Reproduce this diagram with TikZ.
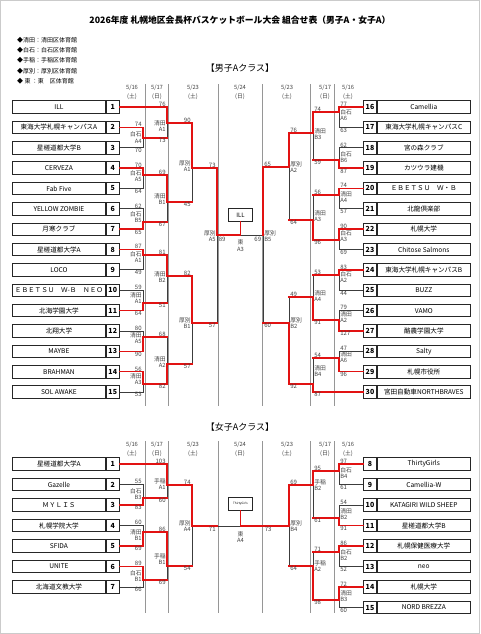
\documentclass[tikz,border=0pt]{standalone}
\usepackage{fontspec}
\setmainfont{Noto Sans CJK JP}
\usetikzlibrary{positioning}

\definecolor{winred}{RGB}{226,18,18}
\definecolor{linegray}{RGB}{60,60,60}
\definecolor{colgray}{RGB}{150,150,150}

\begin{document}
\begin{tikzpicture}[
  x=1pt, y=-1pt,
  font=\fontsize{6.6}{7.5}\selectfont,
  tname/.style={draw=black!85, line width=0.8pt, minimum width=92.5pt, minimum height=12.5pt, inner sep=0pt},
  tnum/.style={draw=black!85, line width=0.8pt, minimum width=13.5pt, minimum height=12.5pt, inner sep=0pt, font=\fontsize{7}{8}\selectfont\bfseries},
  winbox/.style={draw=black!85, line width=0.8pt, minimum width=24pt, minimum height=13pt, inner sep=0pt},
  day/.style={align=center, font=\fontsize{5.8}{9}\selectfont, text=black!75},
  score/.style={font=\fontsize{6}{6.5}\selectfont, text=black!75, inner xsep=1.2pt, inner ysep=0.4pt},
  venue/.style={score, font=\fontsize{5.8}{6.2}\selectfont},
  colline/.style={draw=colgray, line width=0.7pt},
  lose/.style={draw=linegray, line width=0.8pt},
  win/.style={draw=winred, line width=1.6pt, line cap=rect}
]
\useasboundingbox (0,0) rectangle (480,634);
\draw[draw=colgray!50, line width=0.6pt] (0.5,0.5) rectangle (479.5,633.5);

% title and legend
\node[font=\fontsize{8.8}{10}\selectfont\bfseries] (title) at (240,20)
  {2026年度 札幌地区会長杯バスケットボール大会 組合せ表（男子A・女子A）};
\foreach \txt [count=\k] in {◆清田：清田区体育館, ◆白石：白石区体育館, ◆手稲：手稲区体育館,
    ◆厚別：厚別区体育館, ◆ 東 ：東　区体育館}
  \node[anchor=west, inner sep=0pt, font=\fontsize{6}{7}\selectfont] (leg\k) at (17,{29.5+\k*10.4}) {\txt};

\node[font=\fontsize{9}{10}\selectfont] (mhead) at (240,68) {【男子Aクラス】};
\node[font=\fontsize{9}{10}\selectfont] (whead) at (240,427) {【女子Aクラス】};

% day columns
\foreach \cx in {145,168,218,262,310,334} {
  \draw[colline] (\cx,84) -- (\cx,406);
  \draw[colline] (\cx,441) -- (\cx,613);
}
\foreach \dx/\dm/\dd/\dw [count=\k] in {132/5/16/土, 157/5/17/日, 193/5/23/土, 240/5/24/日,
    287/5/23/土, 325/5/17/日, 348/5/16/土} {
  \node[day] (mday\k) at (\dx,92.5) {\dm/\dd\\(\dw)};
  \node[day] (wday\k) at (\dx,449.5) {\dm/\dd\\(\dw)};
}

% teams, men
\foreach \i/\nm in {1/ILL, 2/東海大学札幌キャンパスA, 3/星槎道都大学B, 4/CERVEZA, 5/Fab Five,
    6/YELLOW ZOMBIE, 7/月寒クラブ, 8/星槎道都大学A, 9/LOCO, 10/ＥＢＥＴＳＵ　Ｗ-Ｂ　ＮＥＯ,
    11/北海学園大学, 12/北翔大学, 13/MAYBE, 14/BRAHMAN, 15/SOL AWAKE} {
  \node[tnum] (m\i) at (112.75,{107+(\i-1)*20.36}) {\i};
  \node[tname, left=0pt of m\i] (mt\i) {\nm};
}
\foreach \i/\nm in {16/Camellia, 17/東海大学札幌キャンパスC, 18/宮の森クラブ, 19/カツウラ建機,
    20/ＥＢＥＴＳＵ　Ｗ・Ｂ, 21/北龍倶楽部, 22/札幌大学, 23/Chitose Salmons, 24/東海大学札幌キャンパスB,
    25/BUZZ, 26/VAMO, 27/酪農学園大学, 28/Salty, 29/札幌市役所, 30/宮田自動車NORTHBRAVES} {
  \node[tnum] (m\i) at (370,{107+(\i-16)*20.36}) {\i};
  \node[tname, right=0pt of m\i] (mt\i) {\nm};
}

% teams, women
\foreach \i/\nm in {1/星槎道都大学A, 2/Gazelle, 3/ＭＹＬＩＳ, 4/札幌学院大学, 5/SFIDA, 6/UNITE, 7/北海道文教大学} {
  \node[tnum] (w\i) at (112.75,{464+(\i-1)*20.5}) {\i};
  \node[tname, left=0pt of w\i] (wt\i) {\nm};
}
\foreach \i/\nm in {8/ThirtyGirls, 9/Camellia-W, 10/KATAGIRI WILD SHEEP, 11/星槎道都大学B,
    12/札幌保健医療大学, 13/neo, 14/札幌大学, 15/NORD BREZZA} {
  \node[tnum] (w\i) at (370,{464+(\i-8)*20.5}) {\i};
  \node[tname, right=0pt of w\i] (wt\i) {\nm};
}

% match points, men
\coordinate (x23) at (143,138);   \coordinate (x45) at (143,175);
\coordinate (x67) at (143,222);   \coordinate (x89) at (143,255);
\coordinate (x1011) at (143,303); \coordinate (x1213) at (143,337);
\coordinate (x1415) at (143,384);
\coordinate (x1t3) at (167,123);  \coordinate (x4t7) at (167,202);
\coordinate (x8t11) at (167,276); \coordinate (x12t15) at (167,364);
\coordinate (x1t7) at (192,168);  \coordinate (x8t15) at (192,323);
\coordinate (xL) at (217,235);
\coordinate (x1617) at (339,112); \coordinate (x1819) at (339,160);
\coordinate (x2021) at (339,195); \coordinate (x2223) at (339,240);
\coordinate (x2425) at (339,275); \coordinate (x2627) at (339,320);
\coordinate (x2829) at (339,358);
\coordinate (x16t19) at (313,133); \coordinate (x20t23) at (313,220);
\coordinate (x24t27) at (313,297); \coordinate (x28t30) at (313,384);
\coordinate (x16t23) at (289,167); \coordinate (x24t30) at (289,323);
\coordinate (xR) at (263,235);
\coordinate (xF) at (240.5,235);

% match points, women
\coordinate (y23) at (143,498);   \coordinate (y45) at (143,532);
\coordinate (y67) at (143,580);
\coordinate (y1t3) at (167,485);  \coordinate (y4t7) at (167,566);
\coordinate (yL) at (192,526);
\coordinate (y89) at (339,471);   \coordinate (y1011) at (339,518);
\coordinate (y1213) at (339,552); \coordinate (y1415) at (339,600);
\coordinate (y8t11) at (313,485); \coordinate (y12t15) at (313,566);
\coordinate (yR) at (289,526);
\coordinate (yLe) at (217,526);
\coordinate (yF) at (240.5,526);

% bracket lines
\foreach \a/\b in {m2/x23, m3/x23, m4/x45, m5/x45, m6/x67, m7/x67, m8/x89, m9/x89,
    m10/x1011, m11/x1011, m12/x1213, m13/x1213, m14/x1415, m15/x1415,
    m1/x1t3, x23/x1t3, x45/x4t7, x67/x4t7, x89/x8t11, x1011/x8t11, x1213/x12t15, x1415/x12t15,
    x1t3/x1t7, x4t7/x1t7, x8t11/x8t15, x12t15/x8t15, x1t7/xL, x8t15/xL,
    m16/x1617, m17/x1617, m18/x1819, m19/x1819, m20/x2021, m21/x2021, m22/x2223, m23/x2223,
    m24/x2425, m25/x2425, m26/x2627, m27/x2627, m28/x2829, m29/x2829,
    x1617/x16t19, x1819/x16t19, x2021/x20t23, x2223/x20t23, x2425/x24t27, x2627/x24t27,
    x2829/x28t30, m30/x28t30, x16t19/x16t23, x20t23/x16t23, x24t27/x24t30, x28t30/x24t30,
    x16t23/xR, x24t30/xR,
    w2/y23, w3/y23, w4/y45, w5/y45, w6/y67, w7/y67, w1/y1t3, y23/y1t3, y45/y4t7, y67/y4t7,
    y1t3/yL, y4t7/yL, w8/y89, w9/y89, w10/y1011, w11/y1011, w12/y1213, w13/y1213,
    w14/y1415, w15/y1415, y89/y8t11, y1011/y8t11, y1213/y12t15, y1415/y12t15,
    y8t11/yR, y12t15/yR}
  \draw[lose] (\a) -| (\b);
\draw[lose] (xF) -- (xR);
\draw[lose] (yLe) -- (yF);

% winners
\foreach \a/\b in {m2/x23, m4/x45, m7/x67, m8/x89, m11/x1011, m13/x1213, m14/x1415,
    m1/x1t3, x45/x4t7, x89/x8t11, x1415/x12t15, x1t3/x1t7, x8t11/x8t15, x1t7/xL,
    m16/x1617, m19/x1819, m20/x2021, m22/x2223, m24/x2425, m27/x2627, m29/x2829,
    x1617/x16t19, x2223/x20t23, x2627/x24t27, m30/x28t30, x16t19/x16t23, x28t30/x24t30, x16t23/xR,
    w3/y23, w5/y45, w6/y67, w1/y1t3, y45/y4t7, y1t3/yL,
    w8/y89, w11/y1011, w12/y1213, w14/y1415, y89/y8t11, y1415/y12t15, y8t11/yR}
  \draw[win] (\a) -| (\b);
\foreach \a/\b in {x23/x1t3, x67/x4t7, x1011/x8t11, x1213/x12t15, x4t7/x1t7, x12t15/x8t15, x8t15/xL,
    x1819/x16t19, x2021/x20t23, x2425/x24t27, x2829/x28t30, x20t23/x16t23, x24t27/x24t30, x24t30/xR,
    y23/y1t3, y67/y4t7, y4t7/yL, y1011/y8t11, y1213/y12t15, y12t15/yR}
  \draw[win] (\a) -- (\a -| \b);

% finals
\node[winbox, font=\fontsize{6}{7}\selectfont] (mwin) at (240.5,215) {ILL};
\draw[win] (xL) -- (xF);
\draw[win] (xF) -- (mwin);
\node[winbox, font=\fontsize{3}{3.5}\selectfont] (wwin) at (240.5,504) {ThirtyGirls};
\draw[win] (yL) -- (yLe);
\draw[win] (yF) -- (yR);
\draw[win] (yF) -- (wwin);

% scores and halls, left half
\foreach \v/\yt/\yb/\yv/\ts/\bs/\vn/\vc [count=\k] in {
    143/127.4/147.7/137.5/74/70/白石/A4, 143/168.1/188.4/176/70/64/白石/A5,
    143/208.8/229.2/217/62/65/白石/B5, 143/249.5/269.9/257/87/49/白石/A1,
    143/290.2/310.6/298/59/64/清田/A1, 143/331/351.3/338/80/90/清田/A5,
    143/371.7/392/379/56/53/清田/A3,
    167/107/138/126/76/73/清田/A1, 167/175/222/199/69/67/清田/B1,
    167/255/303/277/81/51/清田/B2, 167/337/384/362/68/82/清田/A2,
    192/123/202/166/90/45/厚別/A1, 192/276/364/323/82/57/厚別/B1,
    217/168/323/236/73/57/厚別/A5,
    143/484.5/505/494/55/83/白石/B3, 143/525.5/546/535/60/69/清田/B1,
    143/566.5/587/576/89/66/白石/B1,
    167/464/498/484/103/60/手稲/A1, 167/532/580/559/86/69/手稲/B1,
    192/485/566/526/74/54/厚別/A4} {
  \node[score, anchor=south east] (lt\k) at (\v,\yt) {\ts};
  \node[score, anchor=north east] (lb\k) at (\v,\yb) {\bs};
  \node[venue, align=right, anchor=east] (lv\k) at (\v,\yv) {\vn\\\vc};
}

% scores and halls, right half
\foreach \v/\yt/\yb/\yv/\ts/\bs/\vn/\vc [count=\k] in {
    339/107/127.4/115/77/63/白石/A6, 339/147.7/168.1/157/62/87/白石/B6,
    339/188.4/208.8/197/74/57/清田/A4, 339/229.2/249.5/236/90/69/白石/A3,
    339/269.9/290.2/277/83/44/白石/A2, 339/310.6/331/317/79/127/清田/A2,
    339/351.3/371.7/357/47/96/清田/A6,
    313/112/160/134/74/59/清田/B3, 313/195/240/216/56/96/清田/A3,
    313/275/320/296/53/91/清田/A4, 313/358/392/371/54/87/清田/B4,
    289/133/220/167/76/64/厚別/A2, 289/297/384/323/49/92/厚別/B2,
    263/167/323/236/65/60/厚別/B5,
    339/464/484.5/473/97/61/白石/B4, 339/505/525.5/514/54/91/清田/B2,
    339/546/566.5/555/86/52/白石/B2, 339/587/607.5/596/72/60/清田/B3,
    313/471/518/485/95/61/手稲/B2, 313/552/600/566/71/98/手稲/A2,
    289/485/566/526/69/64/厚別/B4} {
  \node[score, anchor=south west] (rt\k) at (\v,\yt) {\ts};
  \node[score, anchor=north west] (rb\k) at (\v,\yb) {\bs};
  \node[venue, align=left, anchor=west] (rv\k) at (\v,\yv) {\vn\\\vc};
}

% final scores
\node[score, anchor=north west] (mfl) at (217.5,236.5) {89};
\node[score, anchor=north east] (mfr) at (262.5,236.5) {69};
\node[venue, align=center, anchor=north] (mfv) at (240.5,239.5) {東\\A3};
\node[score, anchor=north east] (wfl) at (217,527) {71};
\node[score, anchor=north west] (wfr) at (263.5,527) {73};
\node[venue, align=center, anchor=north] (wfv) at (240.5,531) {東\\A4};
\end{tikzpicture}
\end{document}
